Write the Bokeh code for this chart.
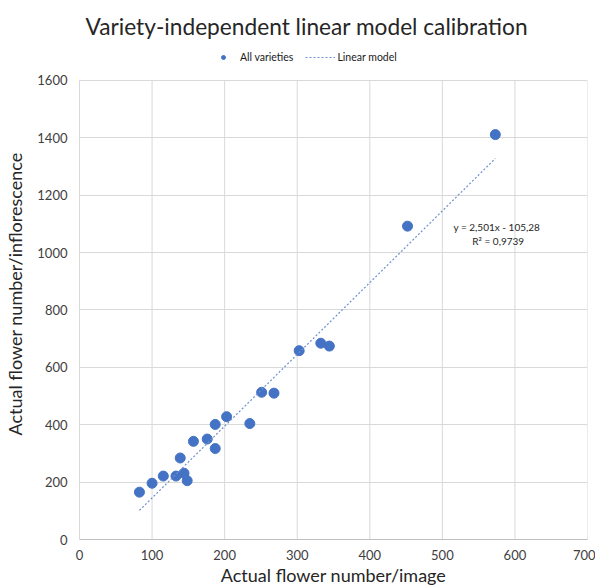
from bokeh.plotting import figure
from bokeh.models import Range1d, Legend, LegendItem, Label, FixedTicker, Title
from bokeh.embed import file_html
from bokeh.resources import INLINE

# Data
image_counts = [82.6, 100, 115.5, 133, 138.8, 144, 148.4, 157, 176, 187, 187, 202.7,
                234.7, 251, 268, 302.7, 332.5, 344.3, 452, 573]
actual_counts = [165, 196, 221, 221, 284, 231, 205, 342, 350, 317, 401, 428,
                 404, 513, 510, 658, 684, 674, 1092, 1411]
slope = 2.501
intercept = -105.28
r_squared = 0.9739
x_ticks = [0, 100, 200, 300, 400, 500, 600, 700]
y_ticks = [0, 200, 400, 600, 800, 1000, 1200, 1400, 1600]

FONT = "Lato"
BLUE = "#4472C4"
GRID = "#d9d9d9"

# frame extends a little above the last tick to host the legend
y_top = y_ticks[-1] * 493 / 461

p = figure(width=595, height=588, output_backend="svg", toolbar_location=None,
           x_range=Range1d(x_ticks[0], x_ticks[-1]), y_range=Range1d(0, y_top),
           min_border_left=79, min_border_right=8, min_border_bottom=47, min_border_top=48)
p.title = Title(text="Variety-independent linear model calibration", text_font=FONT,
                text_font_size="22.7px", text_font_style="normal", text_color="#262626",
                align="left", offset=6, standoff=17)
p.outline_line_color = None

# vertical grid lines limited to the tick range
p.segment(x0=x_ticks, x1=x_ticks, y0=[y_ticks[0]] * len(x_ticks), y1=[y_ticks[-1]] * len(x_ticks),
          line_color=GRID, line_width=1)
p.xgrid.visible = False
p.ygrid.grid_line_color = GRID
p.ygrid.ticker = FixedTicker(ticks=y_ticks)

pts = p.scatter(image_counts, actual_counts, size=10, color=BLUE)
tx = [min(image_counts), max(image_counts)]
ty = [slope * v + intercept for v in tx]
line = p.line(tx, ty, line_color="#6f8fcf", line_width=1.2, line_dash="2 2")

legend = Legend(items=[LegendItem(label="All varieties", renderers=[pts]),
                       LegendItem(label="Linear model", renderers=[line])],
                orientation="horizontal", location=(129, 476), border_line_color=None,
                background_fill_alpha=0, label_text_font=FONT, label_text_font_size="10.5px",
                label_text_color="#1a1a1a", glyph_width=30, glyph_height=10,
                label_standoff=2, spacing=12, padding=2, margin=0, label_height=10)
p.add_layout(legend, "center")

p.add_layout(Label(x=575, y=1088, text=f"y = {str(slope).replace('.', ',')}x - {str(-intercept).replace('.', ',')}",
                   text_font=FONT, text_font_size="10px", text_align="center",
                   text_baseline="middle", text_color="#262626"))
p.add_layout(Label(x=577, y=1040, text=f"R² = {str(r_squared).replace('.', ',')}",
                   text_font=FONT, text_font_size="10px", text_align="center",
                   text_baseline="middle", text_color="#262626"))

for ax in (p.xaxis[0], p.yaxis[0]):
    ax.major_tick_line_color = None
    ax.minor_tick_line_color = None
    ax.major_label_text_font = FONT
    ax.major_label_text_font_size = "13px"
    ax.major_label_text_color = "#404040"
    ax.axis_label_text_font = FONT
    ax.axis_label_text_font_size = "18px"
    ax.axis_label_text_font_style = "normal"
    ax.axis_label_text_color = "#262626"
p.xaxis.ticker = FixedTicker(ticks=x_ticks)
p.yaxis.ticker = FixedTicker(ticks=y_ticks)
p.yaxis.bounds = (y_ticks[0], y_ticks[-1])
p.xaxis.axis_label = "Actual flower number/image"
p.yaxis.axis_label = "Actual flower number/inflorescence"
p.xaxis.major_label_standoff = 4
p.xaxis.axis_label_standoff = 1
p.yaxis.major_label_standoff = 6
p.yaxis.axis_label_standoff = 8
p.xaxis.axis_line_color = "#bfbfbf"
p.yaxis.axis_line_color = GRID

open("out.html", "w").write(file_html(p, INLINE))
